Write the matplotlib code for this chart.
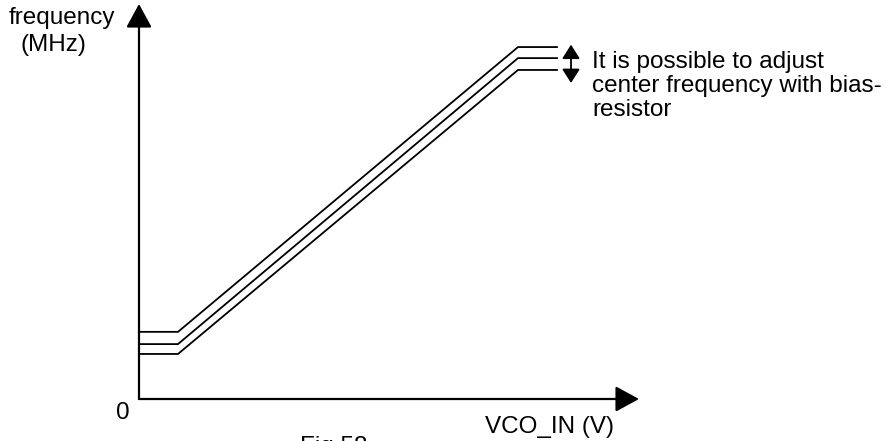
import matplotlib
matplotlib.use("Agg")
import matplotlib.pyplot as plt
from matplotlib.patches import FancyArrowPatch

plt.rcParams['font.family'] = ['Liberation Sans', 'DejaVu Sans']

# VCO characteristic: frequency vs. control voltage for three bias settings
vco_in = [0.0, 0.78, 7.58, 8.36]
freq_high_bias = [1.70, 1.70, 8.91, 8.91]
freq_mid_bias = [1.39, 1.39, 8.63, 8.63]
freq_low_bias = [1.14, 1.14, 8.33, 8.33]
series = [freq_high_bias, freq_mid_bias, freq_low_bias]

x_axis_len = 10.0
y_axis_len = 10.0

fig = plt.figure(figsize=(8.86, 4.41), dpi=100)
ax = fig.add_axes([0, 0, 1, 1])
# 50 px per x unit, 39.5 px per y unit, origin at (139, 399) px
ax.set_xlim(-139 / 50, (886 - 139) / 50)
ax.set_ylim(-(441 - 399) / 39.5, 399 / 39.5)
ax.axis('off')

for f in series:
    ax.plot(vco_in, f, color='black', lw=1.3, solid_joinstyle='miter')

# axes with arrow heads
arrow_style = "-|>,head_length=14.5,head_width=7.9"
for end in [(x_axis_len, 0), (0, y_axis_len)]:
    ax.add_patch(FancyArrowPatch((0, 0), end, arrowstyle=arrow_style,
                                 mutation_scale=1, color='black', lw=1.6,
                                 shrinkA=0, shrinkB=0))

# double-headed arrow showing adjustment range
ax.add_patch(FancyArrowPatch((8.64, 8.0), (8.64, 8.97),
                             arrowstyle="<|-|>,head_length=8.5,head_width=5.4",
                             mutation_scale=1, color='black', lw=1.3,
                             shrinkA=0, shrinkB=0))

fs = 17.5
ax.text((61.5 - 139) / 50, (399 - 18) / 39.5, "frequency", fontsize=fs,
        ha='center', va='center')
ax.text((53.5 - 139) / 50, (399 - 45) / 39.5, "(MHz)", fontsize=fs,
        ha='center', va='center')
ax.text((123 - 139) / 50, (399 - 413) / 39.5, "0", fontsize=fs,
        ha='center', va='center')
ax.text((549.5 - 139) / 50, (399 - 427) / 39.5, "VCO_IN (V)", fontsize=fs,
        ha='center', va='center')
ax.text((300 - 139) / 50, (399 - 436) / 39.5, "Fig.58", fontsize=fs,
        ha='left', va='top')

note_lines = ["It is possible to adjust",
              "center frequency with bias-",
              "resistor"]
for i, line in enumerate(note_lines):
    ax.text((592 - 139) / 50, (399 - (68 + 24 * i)) / 39.5, line,
            fontsize=fs, ha='left', va='baseline')

fig.savefig("out.png", dpi=100)
